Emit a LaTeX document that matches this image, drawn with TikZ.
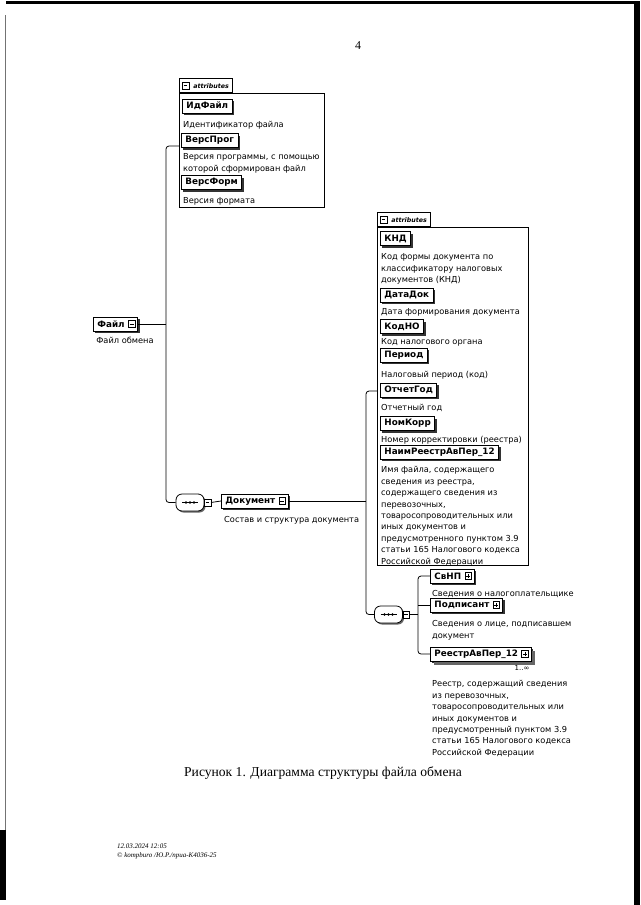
\documentclass[tikz,border=0pt]{standalone}
\usepackage{fontspec}
\setmainfont{DejaVu Sans}
\newfontfamily\seriffont{Liberation Serif}
\usetikzlibrary{calc}

\tikzset{
  elem/.style={draw=black, line width=0.8pt, fill=white, minimum height=14pt,
    inner xsep=4pt, inner ysep=0pt, anchor=west,
    font=\fontsize{8.8}{10}\selectfont\bfseries,
    preaction={fill=black!80, transform canvas={xshift=2pt,yshift=-2pt}}},
  multielem/.style={elem,
    preaction={fill=black!60, transform canvas={xshift=4pt,yshift=-4pt}}},
  attrbox/.style={draw=black, line width=0.7pt, fill=white, inner sep=0pt, anchor=north west},
  attrtab/.style={draw=black, line width=0.7pt, fill=white, inner xsep=3pt, inner ysep=0pt, anchor=south west,
    minimum height=14pt, font=\fontsize{6.3}{7}\selectfont\itshape\bfseries},
  iconminus/.style={draw=black, line width=0.5pt, fill=white, minimum width=6.5pt,
    minimum height=7pt, inner sep=0pt,
    path picture={\draw[line width=0.5pt] ([xshift=1.3pt]path picture bounding box.west) -- ([xshift=-1.3pt]path picture bounding box.east);}},
  iconplus/.style={iconminus,
    path picture={\draw[line width=0.5pt] ([xshift=1.3pt]path picture bounding box.west) -- ([xshift=-1.3pt]path picture bounding box.east);
      \draw[line width=0.5pt] ([yshift=-1.3pt]path picture bounding box.north) -- ([yshift=1.3pt]path picture bounding box.south);}},
  seqbox/.style={draw=black, line width=0.8pt, fill=white, minimum width=28pt,
    minimum height=17pt, inner sep=0pt, rounded corners=6pt,
    preaction={fill=black!60, rounded corners=6pt, transform canvas={xshift=1.5pt,yshift=-1.5pt}}},
  conn/.style={draw=black, line width=0.8pt},
  desc/.style={font=\fontsize{8.25}{11.4}\selectfont, inner sep=0pt, align=left, anchor=north west},
}

\begin{document}
\begin{tikzpicture}[x=1pt,y=-1pt]
\useasboundingbox (0,0) rectangle (640,905);
\fill[white] (0,0) rectangle (640,905);

% scanned page edges
\fill[black] (6,1) rectangle (640,4);
\fill[black] (634,4) rectangle (640,905);
\draw[black!55, line width=1pt] (5.5,15) -- (5.5,830);
\fill[black] (0,830) rectangle (6,900);

% page number
\node[font=\seriffont\fontsize{12}{14}\selectfont, inner sep=0pt] (pagenum) at (358,46) {4};

% ---------------- attributes of Файл ----------------
\node[attrbox, minimum width=145pt, minimum height=114pt] (a1) at (179,93) {};
\node[attrtab] (a1tab) at (a1.north west) {\hspace*{11pt}attributes};
\node[iconminus] (a1icon) at ([xshift=6.5pt]a1tab.west) {};

\node[elem] (idfile) at (182,106) {ИдФайл};
\node[desc] (d_idfile) at (183,121.5) {Идентификатор файла};
\node[elem] (versprog) at (181,140.5) {ВерсПрог};
\node[desc] (d_versprog) at (183,153.5) {Версия программы, с помощью\\которой сформирован файл};
\node[elem] (versform) at (181,182.5) {ВерсФорм};
\node[desc] (d_versform) at (183,197.5) {Версия формата};

% ---------------- Файл ----------------
\node[elem] (fayl) at (93,324) {Файл\hspace*{9pt}};
\node[iconminus, anchor=east] (faylicon) at ([xshift=-3pt]fayl.east) {};
\node[font=\fontsize{8.25}{10}\selectfont, inner sep=0pt] (d_fayl) at (125,340) {Файл обмена};

% bus 1
\coordinate (b1top) at (166,146);
\draw[conn] (fayl.east) -- (fayl.east -| b1top);

% sequence 1
\node[seqbox] (seq1) at (190,502.5) {};
\draw[line width=0.8pt] ([xshift=-8pt]seq1.center) -- ([xshift=8pt]seq1.center);
\foreach \dx in {-4,0,4} \fill ([xshift=\dx pt]seq1.center) circle (1.3pt);
\node[iconminus] (seq1icon) at (207.5,502.5) {};

\draw[conn, rounded corners=3pt] (b1top -| a1.west) -- (b1top) |- (seq1.west);

% ---------------- Документ ----------------
\node[elem] (dok) at (221,501) {Документ\hspace*{9pt}};
\node[iconminus, anchor=east] (dokicon) at ([xshift=-3pt]dok.east) {};
\node[desc] (d_dok) at (224,516.5) {Состав и структура документа};
\draw[conn] (seq1icon.east) -- (dok.west);

% ---------------- attributes of Документ ----------------
\node[attrbox, minimum width=151pt, minimum height=338pt] (a2) at (377,227) {};
\node[attrtab] (a2tab) at (a2.north west) {\hspace*{11pt}attributes};
\node[iconminus] (a2icon) at ([xshift=6.5pt]a2tab.west) {};

\node[elem] (knd) at (380,238.5) {КНД};
\node[desc] (d_knd) at (381,253.5) {Код формы документа по\\классификатору налоговых\\документов (КНД)};
\node[elem] (datadok) at (380,295) {ДатаДок};
\node[desc] (d_datadok) at (381,308.5) {Дата формирования документа};
\node[elem] (kodno) at (380,326.5) {КодНО};
\node[desc] (d_kodno) at (381,338.5) {Код налогового органа};
\node[elem] (period) at (380,355) {Период};
\node[desc] (d_period) at (381,371.5) {Налоговый период (код)};
\node[elem] (otchgod) at (380,390) {ОтчетГод};
\node[desc] (d_otchgod) at (381,404.5) {Отчетный год};
\node[elem] (nomkorr) at (380,423.5) {НомКорр};
\node[desc] (d_nomkorr) at (381,436.5) {Номер корректировки (реестра)};
\node[elem] (naim) at (380,452) {НаимРеестрАвПер\_12};
\node[desc] (d_naim) at (381,466.5) {Имя файла, содержащего\\сведения из реестра,\\содержащего сведения из\\перевозочных,\\товаросопроводительных или\\иных документов и\\предусмотренного пунктом 3.9\\статьи 165 Налогового кодекса\\Российской Федерации};

% bus 2
\coordinate (b2top) at (366,391);
\draw[conn] (dok.east) -- (dok.east -| b2top);

% sequence 2
\node[seqbox] (seq2) at (388.5,614.5) {};
\draw[line width=0.8pt] ([xshift=-8pt]seq2.center) -- ([xshift=8pt]seq2.center);
\foreach \dx in {-4,0,4} \fill ([xshift=\dx pt]seq2.center) circle (1.3pt);
\node[iconminus] (seq2icon) at (406,614.5) {};

\draw[conn, rounded corners=3pt] (b2top -| a2.west) -- (b2top) |- (seq2.west);

% ---------------- children of Документ ----------------
\node[elem] (svnp) at (430,576) {СвНП\hspace*{9pt}};
\node[iconplus, anchor=east] (svnpicon) at ([xshift=-3pt]svnp.east) {};
\node[desc] (d_svnp) at (432,590.5) {Сведения о налогоплательщике};

\node[elem] (podp) at (430,605) {Подписант\hspace*{9pt}};
\node[iconplus, anchor=east] (podpicon) at ([xshift=-3pt]podp.east) {};
\node[desc] (d_podp) at (432,620.5) {Сведения о лице, подписавшем\\документ};

\node[multielem] (reestr) at (430,654) {РеестрАвПер\_12\hspace*{9pt}};
\node[iconplus, anchor=east] (reestricon) at ([xshift=-3pt]reestr.east) {};
\node[font=\fontsize{7}{8}\selectfont, inner sep=0pt] (mult) at (522,667.5) {1..∞};
\node[desc] (d_reestr) at (432,680.5) {Реестр, содержащий сведения\\из перевозочных,\\товаросопроводительных или\\иных документов и\\предусмотренный пунктом 3.9\\статьи 165 Налогового кодекса\\Российской Федерации};

% bus 3
\coordinate (b3) at (418,600);
\draw[conn] (seq2icon.east) -- (seq2icon.east -| b3);
\draw[conn, rounded corners=3pt] (svnp.west) -- (svnp.west -| b3) |- (reestr.west);
\draw[conn] (podp.west) -- (podp.west -| b3);

% caption
\node[font=\seriffont\fontsize{13.6}{16}\selectfont, inner sep=0pt] (caption) at (323,773) {Рисунок 1. Диаграмма структуры файла обмена};

% footer
\node[font=\seriffont\itshape\fontsize{7}{9}\selectfont, inner sep=0pt, align=left, anchor=north west] (footer) at (117,844) {12.03.2024 12:05\\© kompburo /Ю.Р./прuа-К4036-25};
\end{tikzpicture}
\end{document}
